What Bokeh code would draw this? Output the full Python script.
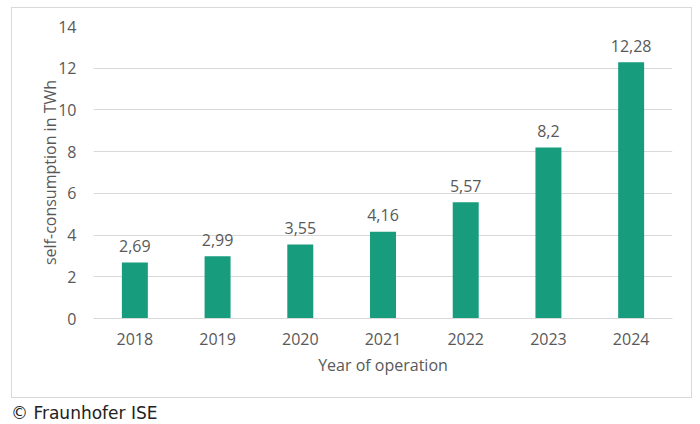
from bokeh.plotting import figure
from bokeh.layouts import column
from bokeh.models import ColumnDataSource, Range1d, FactorRange, LabelSet, Div
from bokeh.core.properties import value
from bokeh.embed import file_html
from bokeh.resources import INLINE

years = ["2018", "2019", "2020", "2021", "2022", "2023", "2024"]
values = [2.69, 2.99, 3.55, 4.16, 5.57, 8.2, 12.28]
value_labels = [str(v).replace(".", ",") for v in values]
y_ticks = [0, 2, 4, 6, 8, 10, 12, 14]
copyright_text = "© Fraunhofer ISE"

FONT = "Open Sans"
GRAY = "#595959"
LINE = "#d9d9d9"

src = ColumnDataSource(dict(year=years, value=values, label=value_labels))

p = figure(width=679, height=389, x_range=FactorRange(*years), y_range=Range1d(0, 14),
           output_backend="svg", toolbar_location=None,
           min_border_left=81, min_border_right=19, min_border_top=18, min_border_bottom=79)
p.margin = (8, 0, 0, 12)
p.align = "start"
p.styles = {"outline": "1px solid #d9d9d9"}
p.outline_line_color = None
p.background_fill_color = "white"
p.border_fill_color = "white"

p.vbar(x="year", top="value", width=0.314, source=src, color="#179c7d", line_color=None)

labels = LabelSet(x="year", y="value", text="label", source=src, text_align="center",
                  text_baseline="alphabetic", y_offset=10.5, text_font=value(FONT),
                  text_font_size="16px", text_color=GRAY)
p.add_layout(labels)

p.xgrid.grid_line_color = None
p.ygrid.grid_line_color = LINE
p.ygrid.grid_line_width = 1
p.yaxis.ticker = y_ticks

for ax in (p.xaxis[0], p.yaxis[0]):
    ax.major_tick_line_color = None
    ax.minor_tick_line_color = None
    ax.major_label_text_font = FONT
    ax.major_label_text_font_size = "16px"
    ax.major_label_text_color = GRAY
    ax.axis_label_text_font = FONT
    ax.axis_label_text_font_size = "16px"
    ax.axis_label_text_color = GRAY
    ax.axis_label_text_font_style = "normal"

p.xaxis.axis_line_color = LINE
p.yaxis.axis_line_color = None
p.xaxis.axis_label = "Year of operation"
p.yaxis.axis_label = "self-consumption in TWh"
p.xaxis.major_label_standoff = 8
p.yaxis.major_label_standoff = 11
p.xaxis.axis_label_standoff = 6
p.yaxis.axis_label_standoff = -6

foot = Div(text=copyright_text, width=300, height=20, margin=(4, 0, 0, 11),
           styles={"font-family": "DejaVu Sans", "font-size": "17px", "color": "#222222",
                   "white-space": "nowrap"})

layout = column(p, foot, spacing=0)
open("out.html", "w").write(file_html(layout, INLINE))
